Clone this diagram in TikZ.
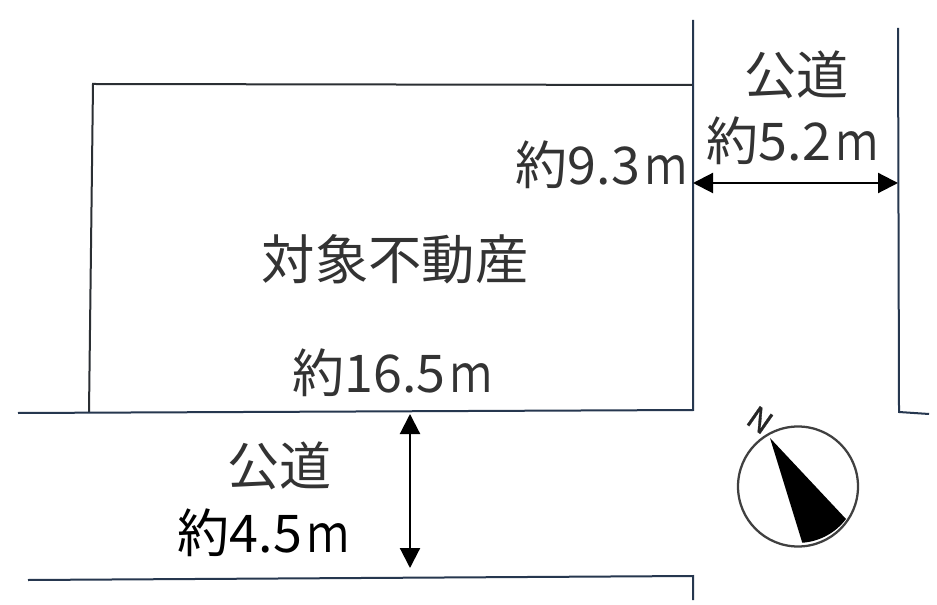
\documentclass[tikz,border=0pt]{standalone}
\usepackage{fontspec}
\setmainfont{Noto Sans CJK JP}
\usetikzlibrary{arrows.meta}
\definecolor{lotline}{HTML}{2B2F33}
\definecolor{roadline}{HTML}{26374F}
\newcommand{\narrowm}{\kern4pt{\addfontfeature{FakeStretch=0.8}ｍ}\kern1pt}
\tikzset{
  lotedge/.style={draw=lotline,line width=1.5pt},
  roadedge/.style={draw=roadline,line width=1.5pt},
  dimarrow/.style={draw=black,line width=1.6pt,{Triangle[length=15pt,width=15pt]}-{Triangle[length=15pt,width=15pt]}},
  lab/.style={inner sep=0pt,font=\fontsize{39pt}{42pt}\selectfont,text=black!80},
  labd/.style={inner sep=0pt,font=\fontsize{39pt}{42pt}\selectfont,text=black}
}
\begin{document}
\begin{tikzpicture}[x=0.75pt,y=-0.75pt]
\useasboundingbox (0,0) rectangle (937,605);
\fill[white] (0,0) rectangle (937,605);
\coordinate (lotBL) at (89,412);
\coordinate (lotTL) at (93,84);
\coordinate (lotTR) at (693,85);
\coordinate (rTop) at (693,20);
\coordinate (rCorner) at (693,410);
\coordinate (bLeft) at (18,413);
\coordinate (farTop) at (898,28);
\coordinate (farCorner) at (899,412);
\coordinate (farEnd) at (929,414);
\coordinate (lowL) at (28,580);
\coordinate (lowC) at (693,576);
\coordinate (lowEnd) at (693,600);
\coordinate (hA) at (693,183);
\coordinate (hB) at (898,183);
\coordinate (vA) at (410,414);
\coordinate (vB) at (410,568);
\draw[lotedge] (lotBL) -- (lotTL) -- (lotTR);
\draw[roadedge] (rTop) -- (rCorner) -- (bLeft);
\draw[roadedge] (farTop) -- (farCorner) -- (farEnd);
\draw[roadedge] (lowL) -- (lowC) -- (lowEnd);
\draw[dimarrow] (hA) -- (hB);
\draw[dimarrow] (vA) -- (vB);
\node[lab] (road1) at (796,75) {公道};
\node[lab] (w1) at (793,141) {約5.2\narrowm};
\node[lab] (d1) at (602,165) {約9.3\narrowm};
\node[lab,font=\fontsize{40pt}{43pt}\selectfont] (name) at (395,259) {対象不動産};
\node[lab] (d2) at (393,373) {約16.5\narrowm};
\node[lab] (road2) at (279,466) {公道};
\node[labd] (w2) at (264,533) {約4.5\narrowm};
\coordinate (cc) at (798,486.5);
\draw[draw=black!75,line width=1.7pt] (cc) circle[radius=60];
\fill[black] (770,438) -- (846,519) arc[start angle=37,end angle=86,radius=60] -- cycle;
\node[inner sep=0pt,rotate=-35,font=\fontsize{23pt}{25pt}\selectfont,text=black!85] (north) at (760,420) {\addfontfeature{FakeBold=1}N};
\end{tikzpicture}
\end{document}
